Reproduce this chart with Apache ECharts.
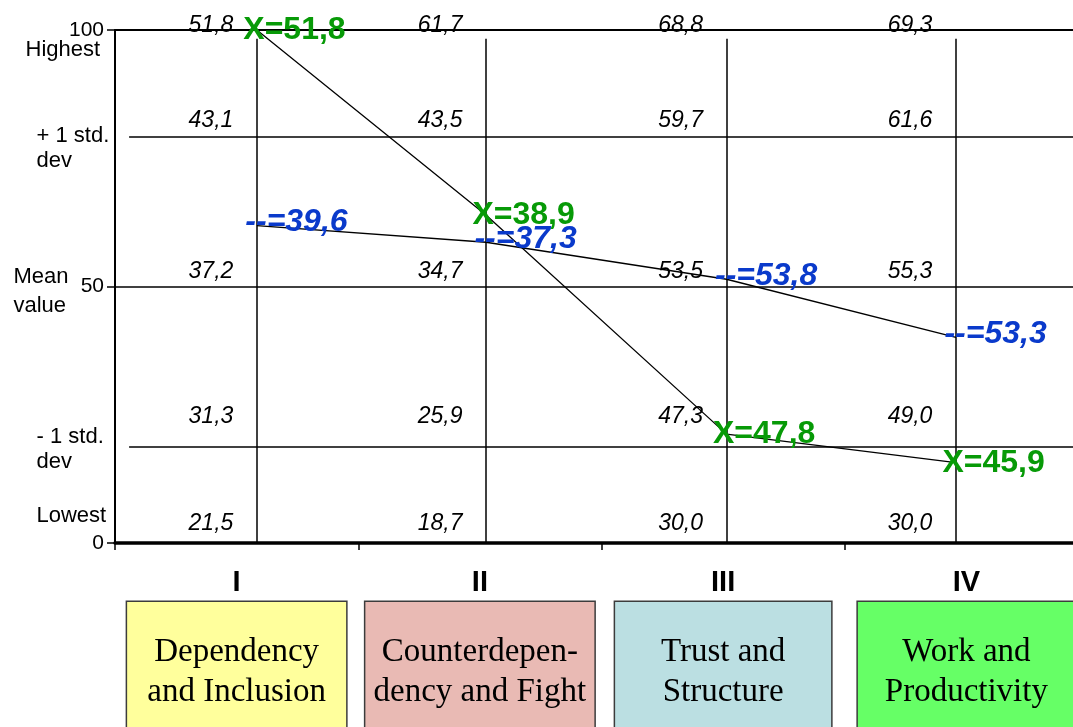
<!DOCTYPE html>
<html>
<head>
<meta charset="utf-8">
<script src="https://cdn.jsdelivr.net/npm/echarts@6/dist/echarts.min.js"></script>
<style>
  html, body { margin: 0; padding: 0; background: #ffffff; }
  #chart { width: 1073px; height: 727px; }
</style>
</head>
<body>
<div id="chart"></div>
<script>
// Group development phases
const phases = ['I', 'II', 'III', 'IV'];
const phaseNames = [
  'Dependency\nand Inclusion',
  'Counterdepen-\ndency and Fight',
  'Trust and\nStructure',
  'Work and\nProductivity'
];
// Horizontal position of each phase's profile column (phase units)
const phaseColumn = [0.583, 1.525, 2.514, 3.457];

// Norm rows and their place on the 0–100 profile scale
const levelNames = ['Highest', '+ 1 std.\ndev', 'Mean\nvalue', '- 1 std.\ndev', 'Lowest'];
const levelScale = [100, 79.2, 50, 18.7, 0];

// Norm values per phase
const normHighest = [51.8, 61.7, 68.8, 69.3];
const normPlus1   = [43.1, 43.5, 59.7, 61.6];
const normMean    = [37.2, 34.7, 53.5, 55.3];
const normMinus1  = [31.3, 25.9, 47.3, 49.0];
const normLowest  = [21.5, 18.7, 30.0, 30.0];

// Group scores per phase
const scoreX    = [51.8, 38.9, 47.8, 45.9];
const scoreDash = [39.6, 37.3, 53.8, 53.3];

// ---- styling / layout constants ----
const SANS = 'Liberation Sans, Arial, sans-serif';
const SERIF = 'Liberation Serif, Times New Roman, serif';
const GREEN = '#079a07';
const BLUE = '#0a3acb';
const boxColors = ['#ffff9c', '#e9bab4', '#bbdfe2', '#66ff66'];
const boxWidths = [219, 229, 216, 217];
const normRowShift = [-4.5, -16, -15, -30, -19];
const levelNameLayout = [
  { dx: -90, dy: 20, lh: 22 },
  { dx: -79, dy: 12, lh: 25 },
  { dx: -102, dy: 4.5, lh: 29 },
  { dx: -79, dy: 2, lh: 25 },
  { dx: -79, dy: -27.5, lh: 22 }
];
const columnTop = 98.3;   // vertical column lines stop just under the top border
const innerLineStart = 0.058;

const fmt = v => v.toFixed(1).replace('.', ',');

const normRows = [normHighest, normPlus1, normMean, normMinus1, normLowest];

// Place a raw score on the 0–100 profile scale by interpolating between the phase's norm rows
function toScale(col, score) {
  const raw = normRows.map(r => r[col]).reverse();      // lowest -> highest
  const pos = levelScale.slice().reverse();             // 0 -> 100
  if (score <= raw[0]) return pos[0];
  for (let k = 1; k < raw.length; k++) {
    if (score <= raw[k]) {
      return pos[k - 1] + (score - raw[k - 1]) / (raw[k] - raw[k - 1]) * (pos[k] - pos[k - 1]);
    }
  }
  return pos[pos.length - 1];
}

// Norm value labels, one per row and phase
const normLabelData = [];
normRows.forEach((row, r) => {
  row.forEach((v, c) => {
    normLabelData.push({
      value: [phaseColumn[c], levelScale[r]],
      text: fmt(v),
      label: { offset: [0, normRowShift[r]] }
    });
  });
});

// Grid lines of the profile
const lineStyle = { color: '#000', width: 1.5, type: 'solid', opacity: 1 };
const markLines = [];
phaseColumn.forEach(x => {
  markLines.push([{ coord: [x, 0] }, { coord: [x, columnTop] }]);
});
markLines.push([{ coord: [innerLineStart, levelScale[1]] }, { coord: [4, levelScale[1]] }]);
markLines.push([{ coord: [0, levelScale[2]] }, { coord: [4, levelScale[2]] }]);
markLines.push([{ coord: [innerLineStart, levelScale[3]] }, { coord: [4, levelScale[3]] }]);

const levelNameData = levelNames.map((n, r) => ({
  value: [0, levelScale[r]],
  name: n,
  label: { offset: [levelNameLayout[r].dx, levelNameLayout[r].dy], lineHeight: levelNameLayout[r].lh }
}));

const hiddenItem = { color: 'rgba(0,0,0,0)', opacity: 1 };

function scoreSeries(name, scores, prefix, color, italic, labelOffset) {
  return {
    name: name,
    type: 'line',
    xAxisIndex: 2,
    yAxisIndex: 0,
    data: scores.map((s, i) => [phaseColumn[i], toScale(i, s)]),
    symbol: 'circle',
    symbolSize: 1,
    showSymbol: true,
    itemStyle: hiddenItem,
    lineStyle: { color: '#000', width: 1.3 },
    clip: false,
    silent: true,
    z: 5,
    label: {
      show: true,
      position: 'right',
      distance: 0,
      offset: labelOffset,
      formatter: p => prefix + fmt(scores[p.dataIndex]),
      color: color,
      opacity: 1,
      fontFamily: SANS,
      fontWeight: 'bold',
      fontStyle: italic ? 'italic' : 'normal',
      fontSize: 32
    }
  };
}

const chart = echarts.init(document.getElementById('chart'), null, { renderer: 'canvas' });

chart.setOption({
  animation: false,
  backgroundColor: '#ffffff',
  grid: {
    left: 115, right: -15, top: 30, bottom: 184,
    containLabel: false, outerBoundsMode: 'none'
  },
  xAxis: [
    {
      type: 'category',
      data: phases,
      position: 'bottom',
      boundaryGap: true,
      axisLine: { onZero: false, lineStyle: { color: '#000', width: 3.5 } },
      axisTick: { show: true, length: 7, lineStyle: { color: '#000', width: 1.5 } },
      axisLabel: {
        interval: 0, margin: 40, verticalAlign: 'middle',
        color: '#000', fontFamily: SANS, fontWeight: 'bold', fontSize: 29
      },
      splitLine: { show: false }
    },
    {
      type: 'category',
      data: phaseNames.map((n, i) => ({
        value: n,
        textStyle: { backgroundColor: boxColors[i], width: boxWidths[i] }
      })),
      position: 'bottom',
      boundaryGap: true,
      axisLine: { show: false, onZero: false },
      axisTick: { show: false },
      axisLabel: {
        interval: 0, margin: 59, align: 'center',
        color: '#000', fontFamily: SERIF, fontSize: 33, lineHeight: 40,
        borderColor: '#3c3c3c', borderWidth: 1.5,
        padding: [30, 0, 60, 0]
      },
      splitLine: { show: false }
    },
    {
      type: 'value',
      min: 0, max: 4,
      position: 'top',
      axisLine: { show: true, onZero: false, lineStyle: { color: '#000', width: 2 } },
      axisTick: { show: false },
      axisLabel: { show: false },
      splitLine: { show: false }
    }
  ],
  yAxis: {
    type: 'value',
    min: 0, max: 100, interval: 50,
    axisLine: { show: true, onZero: false, lineStyle: { color: '#000', width: 2 } },
    axisTick: { show: true, length: 8, lineStyle: { color: '#000', width: 1.5 } },
    axisLabel: { margin: 11, color: '#000', fontFamily: SANS, fontSize: 21 },
    splitLine: { show: false }
  },
  series: [
    {
      name: 'norms',
      type: 'scatter',
      xAxisIndex: 2,
      yAxisIndex: 0,
      data: normLabelData,
      symbolSize: 1,
      itemStyle: hiddenItem,
      silent: true,
      clip: false,
      z: 3,
      label: {
        show: true,
        position: 'left',
        distance: 23,
        formatter: p => p.data.text,
        color: '#000',
        opacity: 1,
        fontFamily: SANS,
        fontStyle: 'italic',
        fontSize: 23
      },
      markLine: {
        silent: true,
        symbol: ['none', 'none'],
        label: { show: false },
        lineStyle: lineStyle,
        emphasis: { disabled: true },
        data: markLines
      }
    },
    {
      name: 'levels',
      type: 'scatter',
      xAxisIndex: 2,
      yAxisIndex: 0,
      data: levelNameData,
      symbolSize: 1,
      itemStyle: hiddenItem,
      silent: true,
      clip: false,
      label: {
        show: true,
        position: 'right',
        distance: 0,
        align: 'left',
        verticalAlign: 'middle',
        formatter: '{b}',
        color: '#000',
        opacity: 1,
        fontFamily: SANS,
        fontSize: 22
      }
    },
    scoreSeries('X', scoreX, 'X=', GREEN, false, [-14, 0]),
    scoreSeries('--', scoreDash, '--=', BLUE, true, [-12, -3])
  ]
});
</script>
</body>
</html>
